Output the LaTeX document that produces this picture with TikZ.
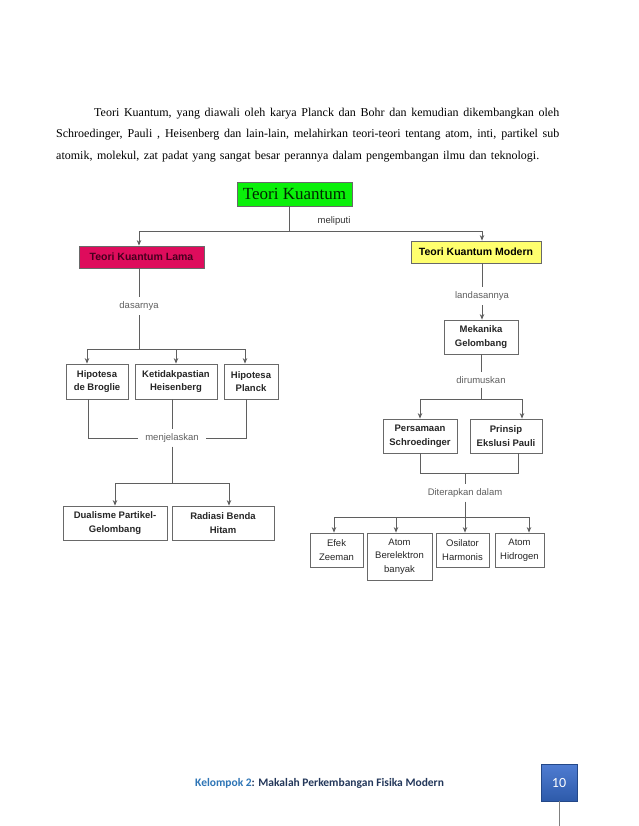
\documentclass[tikz,border=0pt]{standalone}
\usepackage{fontspec}
\setmainfont{Liberation Serif}
\setsansfont{Liberation Sans}
\newfontfamily\footfont{Carlito}
\usetikzlibrary{arrows.meta}
\definecolor{tkgreen}{RGB}{10,240,10}
\definecolor{lamared}{RGB}{222,12,92}
\definecolor{lamatext}{RGB}{70,0,30}
\definecolor{modyellow}{RGB}{255,255,110}
\definecolor{linegray}{RGB}{95,95,95}
\definecolor{boxgray}{RGB}{105,105,105}
\definecolor{labelgray}{RGB}{95,95,95}
\definecolor{footblue}{RGB}{46,117,182}
\definecolor{footnavy}{RGB}{35,55,90}
\definecolor{pgtop}{RGB}{80,125,210}
\definecolor{pgbot}{RGB}{45,90,170}
\begin{document}
\begin{tikzpicture}[x=1pt,y=-1pt,
  box/.style={draw=boxgray, line width=0.8pt, fill=white, font=\sffamily\bfseries\fontsize{9.5}{13.5}\selectfont, align=center, inner sep=0pt, text=black!85},
  rbox/.style={box, font=\sffamily\fontsize{9.5}{13.5}\selectfont},
  headbox/.style={draw=boxgray, line width=0.8pt, font=\sffamily\bfseries\fontsize{10.5}{12}\selectfont, inner sep=0pt},
  lbl/.style={font=\sffamily\fontsize{9.5}{11}\selectfont, text=labelgray, inner xsep=7pt, inner ysep=4.5pt},
  conn/.style={draw=linegray, line width=0.8pt},
  arr/.style={conn, -{Stealth[length=5.5pt,width=4.5pt]}},
  para/.style={anchor=base west, inner sep=0pt, font=\fontsize{12}{14}\selectfont},
]
\useasboundingbox[fill=white] (0,0) rectangle (638,826);

% paragraph
\node[para] (p1) at (94,116.5) {\makebox[465pt][s]{Teori Kuantum, yang diawali oleh karya Planck dan Bohr dan kemudian dikembangkan oleh}};
\node[para] (p2) at (56,138) {\makebox[503pt][s]{Schroedinger, Pauli , Heisenberg dan lain-lain, melahirkan teori-teori tentang atom, inti, partikel sub}};
\node[para] (p3) at (56,159.5) {\makebox[483pt][s]{atomik, molekul, zat padat yang sangat besar perannya dalam pengembangan ilmu dan teknologi.}};

% top
\node[draw=boxgray, line width=0.8pt, fill=tkgreen, minimum width=115pt, minimum height=24pt, inner sep=0pt, font=\fontsize{17}{20}\selectfont, text=black!85!green] (tk) at (294.5,194) {Teori Kuantum};
\node[headbox, fill=lamared, text=lamatext, minimum width=125pt, minimum height=22pt] (lama) at (141.5,257) {Teori Kuantum Lama};
\node[headbox, fill=modyellow, text=black, minimum width=130pt, minimum height=22pt] (modern) at (476,252) {Teori Kuantum Modern};
\coordinate (jt) at (289,231);
\coordinate (xl) at (139,0);
\coordinate (xm) at (482,0);
\draw[conn] (tk.south -| jt) -- (jt);
\draw[arr] (jt) -| (lama.north -| xl);
\draw[arr] (jt) -| (modern.north -| xm);
\node[font=\sffamily\fontsize{9.5}{11}\selectfont, text=black!80, inner sep=0pt] (meli) at (334,221) {meliputi};

% left branch
\node[lbl] (das) at (139,306) {dasarnya};
\node[box, minimum width=62pt, minimum height=35pt] (hdb) at (97,381.5) {Hipotesa\\de Broglie};
\node[box, minimum width=82pt, minimum height=35pt] (keti) at (176,381.5) {Ketidakpastian\\Heisenberg};
\node[box, minimum width=54pt, minimum height=35pt] (hpl) at (251,381.5) {Hipotesa\\Planck};
\coordinate (b1) at (139,349);
\draw[conn] (lama.south -| das) -- (das.north);
\draw[conn] (das.south) -- (b1);
\draw[arr] (b1) -| ([xshift=-10pt]hdb.north);
\draw[arr] (b1) -| ([xshift=-6pt]hpl.north);
\draw[arr] (b1 -| keti.north) -- (keti.north);

\node[lbl, inner ysep=4pt] (menj) at (172,438) {menjelaskan};
\draw[conn] ([xshift=-9pt]hdb.south) |- (menj.west);
\draw[conn] ([xshift=-5pt]hpl.south) |- (menj.east);
\draw[conn] (keti.south -| menj) -- (menj.north);

\node[box, minimum width=104pt, minimum height=34pt] (dual) at (115,523) {Dualisme Partikel-\\Gelombang};
\node[box, minimum width=102pt, minimum height=34pt] (rad) at (223,523) {Radiasi Benda\\Hitam};
\coordinate (b2) at (172,483);
\draw[conn] (menj.south) -- (b2);
\draw[arr] (b2) -| (dual.north);
\draw[arr] (b2) -| ([xshift=6pt]rad.north);

% right branch
\node[lbl] (land) at (482,296) {landasannya};
\node[box, minimum width=74pt, minimum height=34pt] (mek) at (481,337) {Mekanika\\Gelombang};
\draw[conn] (modern.south -| land) -- (land.north);
\draw[arr] (land.south) -- (mek.north -| land);

\node[lbl, inner ysep=4pt] (diru) at (481,380) {dirumuskan};
\node[box, minimum width=74pt, minimum height=34pt] (pers) at (420,436) {Persamaan\\Schroedinger};
\node[box, minimum width=72pt, minimum height=34pt] (prin) at (506,436) {Prinsip\\Ekslusi Pauli};
\coordinate (b3) at (481,399);
\draw[conn] (mek.south -| diru) -- (diru.north);
\draw[conn] (diru.south) -- (b3);
\draw[arr] (b3) -| (pers.north);
\draw[arr] (b3) -| ([xshift=16pt]prin.north);

\coordinate (b4) at (465,473);
\draw[conn] (pers.south) |- (b4);
\draw[conn] ([xshift=12pt]prin.south) |- (b4);
\node[lbl, inner ysep=4pt] (dit) at (465,493) {Diterapkan dalam};
\draw[conn] (b4) -- (dit.north);
\coordinate (b5) at (465,517);
\draw[conn] (dit.south) -- (b5);

\node[rbox, minimum width=53pt, minimum height=34pt] (efek) at (336.5,550) {Efek\\Zeeman};
\node[rbox, minimum width=65pt, minimum height=47pt] (atom) at (399.5,556.5) {Atom\\Berelektron\\banyak};
\node[rbox, minimum width=53pt, minimum height=34pt] (osi) at (462.5,550) {Osilator\\Harmonis};
\node[rbox, minimum width=49pt, minimum height=34pt] (hid) at (519.5,550) {Atom\\Hidrogen};
\draw[arr] (b5) -| ([xshift=-2.5pt]efek.north);
\draw[arr] (b5) -| ([xshift=-3.5pt]atom.north);
\draw[arr] (b5) -- (osi.north -| b5);
\draw[arr] (b5) -| ([xshift=9.5pt]hid.north);

% footer
\node[anchor=west, inner sep=0pt, font=\footfont\bfseries\fontsize{11.5}{14}\selectfont] (foot) at (195,783) {\textcolor{footblue}{Kelompok 2}\textcolor{footnavy}{: Makalah Perkembangan Fisika Modern}};
\node[minimum width=36pt, minimum height=37pt, inner sep=0pt, top color=pgtop, bottom color=pgbot, draw=pgbot!80!black, line width=0.4pt, text=white, font=\footfont\fontsize{14}{16}\selectfont] (pg) at (559,782.5) {10};
\coordinate (pgend) at (559,826);
\draw[draw=gray, line width=0.8pt] (pg.south) -- (pgend);
\end{tikzpicture}
\end{document}
